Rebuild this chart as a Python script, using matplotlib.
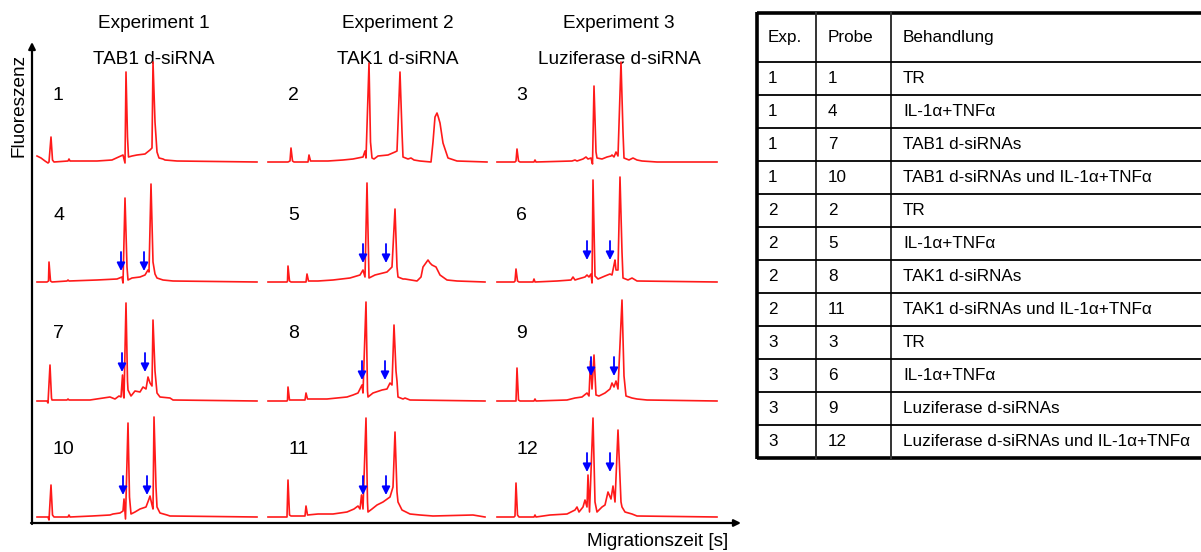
import numpy as np
import matplotlib
matplotlib.use('Agg')
import matplotlib.pyplot as plt

plt.rcParams['font.family'] = ['Liberation Sans', 'DejaVu Sans']

# electropherogram traces: (migration time, fluorescence)
probe_1 = [(0,6),(4,4),(8,1),(11,-1),(12,0),(14,25),(15.5,2),(17,0),(31,1),(32,3),(33,1),(60,1),(75,2),(86,7),(88,-1),
           (89,90),(90.5,25),(91.5,5),(95,6),(100,7),(108,8),(113,12),(115,14),(116,100),(118,40),(120,10),(122,4),
           (126,3),(128,2),(140,1),(220,0)]
probe_2 = [(0,0),(20,0),(22,1),(23,14),(24.5,1),(26,0),(40,0),(41,7),(42.5,1),(50,1),(60,1),(75,2),(85,3),(95,5),(97,11),
           (98,4),(101,99),(102.5,20),(104,4),(106,3),(110,6),(120,7),(127,10),(129,11),(132,90),(134,30),(135,5),(140,3),
           (143,4),(146,2),(152,1),(163,0),(165,20),(167,45),(169,49),(170,46),(172,39),(175,19),(180,4),(189,1),(219,0)]
probe_3 = [(0,0),(18,0),(19,1),(20,13),(21.5,1),(23,0),(37,0),(38,2),(39,0),(75,1),(78,2),(80,1),(86,3),(89,5),(91,3),
           (94,4),(95.5,-2),(97,76),(99,10),(100,4),(105,3),(110,5),(114,6),(115,7),(117,5),(119,10),(121,6),(124,100),
           (126,30),(127,4),(132,2),(136,4),(140,2),(145,1),(160,0),(220,0)]
probe_4 = [(0,0),(10,0),(11.5,1),(12,20),(13.5,1),(15,0),(30,1),(31,2),(32,1),(60,2),(80,3),(85,5),(86,-1),(88,84),
           (90,15),(91,2),(95,4),(103,5),(108,7),(111,12),(112,10),(114,98),(116,20),(118,8),(120,4),(126,2),(136,1),
           (220,0)]
probe_5 = [(0,0),(19,0),(19.5,1),(20,16),(21.5,1),(23,0),(38,0),(39,8),(40.5,1),(50,1),(65,2),(82,4),(92,7),(95,12),
           (97,5),(99,99),(101,4),(107,7),(119,10),(124,15),(127,73),(129,15),(130,5),(135,3),(137,3),(149,1),(153,5),
           (155,15),(160,22),(162,19),(164,17),(168,15),(172,7),(179,2),(189,1),(217,0)]
probe_6 = [(0,0),(17,0),(18,1),(19,13),(20.5,1),(22,0),(36,0),(37,3),(38,0),(60,1),(74,2),(76,5),(78,2),(81,3),(88,5),
           (90,7),(92,5),(94,8),(95,-1),(96,102),(98,6),(101,3),(108,6),(113,8),(115,7),(117,17),(118,22),(119,12),
           (121,12),(123,105),(125,30),(126,4),(131,2),(135,4),(140,1),(220,0)]
probe_7 = [(0,0),(10,0),(11,-2),(13,36),(14.5,3),(15,1),(30,1),(31,2),(32,1),(53,1),(73,4),(78,2),(82,5),(84,4),
           (85.5,26),(86.5,5),(87,3),(89,98),(90.5,20),(91,11),(94,5),(98,10),(103,9),(106,14),(109,12),(111,24),(113,18),
           (115,15),(116,81),(118,30),(120,8),(123,4),(133,3),(136,1),(220,0)]
probe_8 = [(0,0),(19,0),(19.5,1),(20,14),(21.5,1),(23,1),(37,1),(38,8),(39.5,2),(50,2),(59,2),(79,4),(85,6),(90,8),
           (94,16),(95,8),(98,99),(99.5,10),(100,4),(105,8),(114,11),(119,12),(122,18),(124,16),(126,76),(128,30),
           (129,20),(130,4),(135,2),(137,3),(142,1),(217,0)]
probe_9 = [(0,0),(19,0),(20,33),(21.5,1),(23,0),(37,0),(38,2),(39,0),(70,1),(78,3),(85,4),(90,8),(92,5),(93.5,40),
           (95,12),(97,46),(99,6),(102,5),(108,8),(113,12),(115,18),(117,14),(119,20),(121,12),(125,101),(127,25),
           (129,5),(135,3),(140,2),(150,1),(220,0)]
probe_10 = [(0,0),(11,0),(12,-3),(14,32),(15.5,2),(17,0),(31,0),(32,2),(33,0),(55,1),(73,2),(76,3),(83,4),(86,6),
            (87,18),(88.5,-2),(91,94),(92.5,20),(94,3),(98,5),(103,8),(109,10),(112,18),(113,21),(115,12),(116,8),
            (117,100),(119,30),(120,10),(123,4),(130,2),(133,1),(220,0)]
probe_11 = [(0,0),(19,0),(20,37),(21.5,2),(23,1),(37,1),(38,11),(39.5,2),(50,3),(65,3),(79,5),(86,8),(90,11),(92,8),
            (93.5,22),(95,8),(98,99),(99.5,15),(100,5),(104,8),(109,12),(115,15),(122,20),(125,30),(127,85),(129,25),
            (130,15),(134,7),(142,3),(152,2),(165,1),(205,2),(217,0)]
probe_12 = [(0,0),(17,0),(18,1),(19,34),(20.5,2),(22,0),(37,0),(38,2),(39,0),(53,2),(70,3),(76,6),(78,7),(80,10),
            (82,5),(86,10),(88,17),(90,10),(91,42),(92.5,5),(96,99),(98,15),(100,5),(105,10),(108,12),(111,25),(114,18),
            (116,31),(118,15),(121,87),(124,15),(125,10),(128,5),(135,3),(140,1),(220,0)]

traces = [probe_1, probe_2, probe_3, probe_4, probe_5, probe_6,
          probe_7, probe_8, probe_9, probe_10, probe_11, probe_12]

# blue arrows (time, tip height) marking the extra peaks
arrows_4 = [(84,11),(107,11)]
arrows_5 = [(95,19),(118,19)]
arrows_6 = [(90,22),(113,22)]
arrows_7 = [(85,29),(108,29)]
arrows_8 = [(94,21),(117,21)]
arrows_9 = [(94,25),(117,25)]
arrows_10 = [(86,22),(110,22)]
arrows_11 = [(95,22),(118,22)]
arrows_12 = [(90,45),(113,45)]
arrows = [[], [], [], arrows_4, arrows_5, arrows_6, arrows_7, arrows_8, arrows_9, arrows_10, arrows_11, arrows_12]

exp_titles = ['Experiment 1', 'Experiment 2', 'Experiment 3']
exp_subtitles = ['TAB1 d-siRNA', 'TAK1 d-siRNA', 'Luziferase d-siRNA']

tab_header = ['Exp.', 'Probe', 'Behandlung']
tab_exp = ['1', '1', '1', '1', '2', '2', '2', '2', '3', '3', '3', '3']
tab_probe = ['1', '4', '7', '10', '2', '5', '8', '11', '3', '6', '9', '12']
tab_treat = ['TR', 'IL-1α+TNFα', 'TAB1 d-siRNAs', 'TAB1 d-siRNAs und IL-1α+TNFα',
             'TR', 'IL-1α+TNFα', 'TAK1 d-siRNAs', 'TAK1 d-siRNAs und IL-1α+TNFα',
             'TR', 'IL-1α+TNFα', 'Luziferase d-siRNAs', 'Luziferase d-siRNAs und IL-1α+TNFα']

W, H = 1201, 552
fig = plt.figure(figsize=(W/100, H/100), dpi=100)

# background axes in pixel units for frame, titles and table
ax0 = fig.add_axes([0, 0, 1, 1])
ax0.set_xlim(0, W)
ax0.set_ylim(H, 0)
ax0.axis('off')

col_left = [37, 268, 497]
row_base = [162, 282, 401, 517]
label_dx = [16, 20, 19]
title_x = [154, 398, 619]

for i, tr in enumerate(traces):
    r, c = divmod(i, 3)
    left = col_left[c]
    base = row_base[r]
    ax = fig.add_axes([left/W, 1 - (base+8)/H, 222/W, 120/H])
    ax.set_xlim(0, 222)
    ax.set_ylim(-8, 112)
    ax.axis('off')
    t = [p[0] for p in tr]
    f = [p[1] for p in tr]
    ax.plot(t, f, color='#ff1a1a', lw=1.2, clip_on=False)
    for (ta, ha) in arrows[i]:
        ax.annotate('', xy=(ta, ha), xytext=(ta, ha+19),
                    arrowprops=dict(arrowstyle='-|>', color='#0000ff', lw=1.3,
                                    mutation_scale=12, shrinkA=0, shrinkB=0))
    ax.text(label_dx[c], 67, str(i+1), fontsize=14, ha='left', va='center')

for c in range(3):
    ax0.text(title_x[c], 23, exp_titles[c], fontsize=13.7, ha='center', va='center')
    ax0.text(title_x[c], 59, exp_subtitles[c], fontsize=13.7, ha='center', va='center')

# axes frame with arrows
ax0.annotate('', xy=(32, 42), xytext=(32, 524),
             arrowprops=dict(arrowstyle='-|>', color='black', lw=1.6, mutation_scale=10, shrinkA=0, shrinkB=0))
ax0.annotate('', xy=(741, 523), xytext=(31, 523),
             arrowprops=dict(arrowstyle='-|>', color='black', lw=1.6, mutation_scale=10, shrinkA=0, shrinkB=0))
ax0.text(19, 105, 'Fluoreszenz', fontsize=13.7, rotation=90, ha='center', va='center')
ax0.text(728, 541, 'Migrationszeit [s]', fontsize=13.7, ha='right', va='center')

# table
tx0, tx1, tx2, tx3 = 757, 816, 891, 1203
ty_top, ty_head = 13, 62
row_h = 33
ty_bot = ty_head + row_h*len(tab_exp)
ax0.plot([tx0, tx3], [ty_top, ty_top], color='black', lw=2.6, solid_capstyle='butt')
ax0.plot([tx0, tx3], [ty_bot, ty_bot], color='black', lw=2.6, solid_capstyle='butt')
ax0.plot([tx0, tx0], [ty_top-1, ty_bot+1], color='black', lw=2.6, solid_capstyle='butt')
for xx in [tx1, tx2]:
    ax0.plot([xx, xx], [ty_top, ty_bot], color='#333333', lw=1.4)
for k in range(len(tab_exp)):
    yy = ty_head + row_h*k
    ax0.plot([tx0, tx3], [yy, yy], color='black', lw=1.3)

fs_tab = 12.3
ax0.text(768, (ty_top+ty_head)/2, tab_header[0], fontsize=fs_tab, ha='left', va='center')
ax0.text(828, (ty_top+ty_head)/2, tab_header[1], fontsize=fs_tab, ha='left', va='center')
ax0.text(903, (ty_top+ty_head)/2, tab_header[2], fontsize=fs_tab, ha='left', va='center')
for k in range(len(tab_exp)):
    yc = ty_head + row_h*k + row_h/2
    ax0.text(768, yc, tab_exp[k], fontsize=fs_tab, ha='left', va='center')
    ax0.text(828, yc, tab_probe[k], fontsize=fs_tab, ha='left', va='center')
    ax0.text(903, yc, tab_treat[k], fontsize=fs_tab, ha='left', va='center')

fig.savefig('out.png', dpi=100)
